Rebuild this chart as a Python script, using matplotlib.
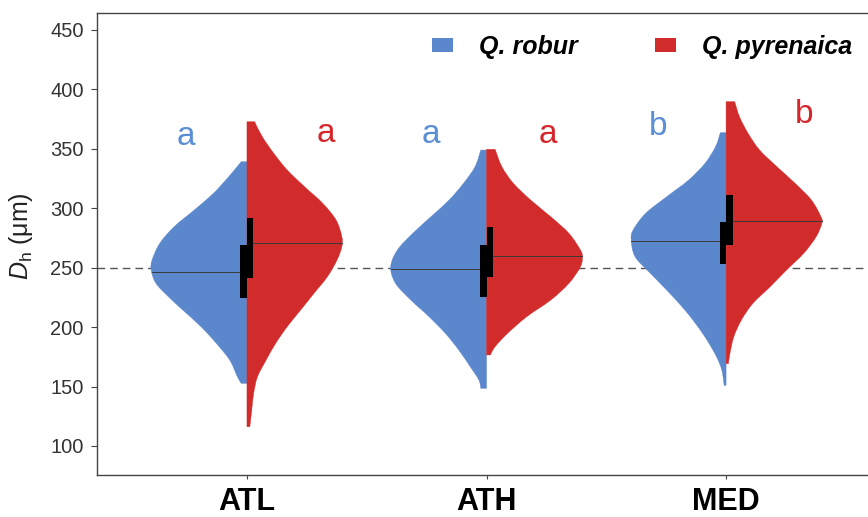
import numpy as np
import matplotlib
matplotlib.use("Agg")
import matplotlib.pyplot as plt
from matplotlib.path import Path
from matplotlib.patches import PathPatch, Patch, Rectangle

plt.rcParams['font.family'] = ['Liberation Sans', 'DejaVu Sans']
plt.rcParams['mathtext.fontset'] = 'custom'
plt.rcParams['mathtext.rm'] = 'Liberation Sans'
plt.rcParams['mathtext.it'] = 'Liberation Sans:italic'

# ---------------- data ----------------
sites = ["ATL", "ATH", "MED"]
species = ["Q. robur", "Q. pyrenaica"]

# violin outlines: y values (µm) and relative density (0-1), top to bottom
robur_y = [
    [339.2, 326.6, 312.6, 298.5, 284.5, 270.5, 256.5, 248.0, 236.9, 225.6, 214.4, 200.4, 186.4, 172.3, 158.3, 152.7],
    [349.0, 335.0, 321.0, 307.0, 292.9, 278.9, 264.9, 250.8, 236.9, 222.8, 208.8, 194.8, 180.8, 166.7, 155.5, 148.5],
    [363.6, 351.8, 337.8, 323.8, 309.7, 295.7, 281.7, 273.3, 259.3, 245.3, 231.2, 217.2, 203.2, 189.2, 175.1, 163.9, 151.0],
]
robur_d = [
    [0.06, 0.19, 0.35, 0.55, 0.76, 0.91, 0.99, 1.00, 0.95, 0.82, 0.67, 0.48, 0.32, 0.18, 0.10, 0.06],
    [0.06, 0.12, 0.24, 0.39, 0.58, 0.77, 0.93, 1.00, 0.95, 0.79, 0.60, 0.43, 0.29, 0.17, 0.08, 0.06],
    [0.06, 0.11, 0.22, 0.39, 0.62, 0.84, 0.97, 0.99, 0.95, 0.79, 0.62, 0.46, 0.32, 0.20, 0.10, 0.045, 0.02],
]
pyren_y = [
    [372.8, 360.2, 346.2, 332.2, 318.2, 304.2, 290.1, 276.1, 267.7, 256.5, 242.5, 228.5, 214.4, 200.4, 186.4, 172.3, 158.3, 144.3, 130.3, 116.2],
    [349.6, 335.0, 321.0, 307.0, 292.9, 278.9, 264.9, 259.3, 250.8, 236.9, 222.8, 208.8, 194.8, 183.6, 176.6],
    [389.7, 377.0, 363.0, 349.0, 335.0, 321.0, 307.0, 292.9, 287.4, 276.1, 262.1, 248.0, 234.0, 220.0, 206.0, 191.7, 177.7, 169.3],
]
pyren_d = [
    [0.08, 0.16, 0.28, 0.42, 0.60, 0.79, 0.93, 0.99, 0.99, 0.94, 0.84, 0.70, 0.56, 0.42, 0.30, 0.20, 0.11, 0.07, 0.05, 0.03],
    [0.09, 0.16, 0.28, 0.46, 0.67, 0.86, 0.98, 1.00, 0.98, 0.86, 0.67, 0.42, 0.22, 0.09, 0.04],
    [0.09, 0.14, 0.23, 0.35, 0.53, 0.72, 0.89, 0.99, 1.00, 0.94, 0.81, 0.63, 0.46, 0.28, 0.16, 0.08, 0.04, 0.024],
]

robur_median = [246.0, 248.6, 272.5]
pyren_median = [270.5, 260.1, 289.6]
robur_q1 = [224.3, 225.6, 253.1]
robur_q3 = [269.1, 269.1, 288.7]
pyren_q1 = [241.1, 242.5, 269.1]
pyren_q3 = [291.6, 284.0, 311.2]

robur_letters = ["a", "a", "b"]
pyren_letters = ["a", "a", "b"]
robur_letter_x = [0.746, 1.767, 2.715]
pyren_letter_x = [1.330, 2.258, 3.325]
robur_letter_y = [353.0, 354.7, 361.6]
pyren_letter_y = [356.0, 354.7, 371.5]

yticks = [100, 150, 200, 250, 300, 350, 400, 450]
ref_line = 250

# ---------------- style ----------------
BLUE = "#5b87cd"
RED = "#d12b2c"
BLUE_TXT = "#5a8ed5"
RED_TXT = "#d4262b"
MAXW = 0.40
BOXW = 0.027

W, H = 868, 517
fig = plt.figure(figsize=(W / 100, H / 100), dpi=100)
ax = fig.add_axes([97 / W, 42 / H, 780 / W, 462 / H])
ax.set_xlim(0.374, 3.63)
ax.set_ylim(75.6, 464.3)


def smooth_path(pts):
    """Catmull-Rom through pts -> cubic Bezier vertices/codes."""
    pts = np.asarray(pts, float)
    n = len(pts)
    verts = [pts[0]]
    codes = [Path.LINETO]
    for i in range(n - 1):
        p0 = pts[i - 1] if i > 0 else pts[i]
        p1 = pts[i]
        p2 = pts[i + 1]
        p3 = pts[i + 2] if i + 2 < n else pts[i + 1]
        c1 = p1 + (p2 - p0) / 6.0
        c2 = p2 - (p3 - p1) / 6.0
        verts += [c1, c2, p2]
        codes += [Path.CURVE4] * 3
    return verts, codes


def half_violin(xc, ys, ds, side, color):
    ys = np.asarray(ys, float)
    xs = xc + side * MAXW * np.asarray(ds, float)
    outline = np.column_stack([xs, ys])
    verts = [(xc, ys[0])]
    codes = [Path.MOVETO]
    v, c = smooth_path(outline)
    verts += v
    codes += c
    verts += [(xc, ys[-1]), (xc, ys[0])]
    codes += [Path.LINETO, Path.CLOSEPOLY]
    ax.add_patch(PathPatch(Path(verts, codes), facecolor=color,
                           edgecolor=color, lw=0.3, zorder=2))


def edge_at(ys, ds, y):
    return MAXW * np.interp(y, np.asarray(ys)[::-1], np.asarray(ds)[::-1])


ax.axhline(ref_line, color="#555555", lw=1.0, ls=(0, (5.5, 3.6)), zorder=1)

for i, site in enumerate(sites):
    xc = i + 1
    half_violin(xc, robur_y[i], robur_d[i], -1, BLUE)
    half_violin(xc, pyren_y[i], pyren_d[i], +1, RED)
    # medians
    wb = edge_at(robur_y[i], robur_d[i], robur_median[i])
    ax.plot([xc - wb, xc], [robur_median[i]] * 2, color="#3a3a3a", lw=0.7, zorder=3)
    wr = edge_at(pyren_y[i], pyren_d[i], pyren_median[i])
    ax.plot([xc, xc + wr], [pyren_median[i]] * 2, color="#3a3a3a", lw=0.7, zorder=3)
    # IQR boxes
    ax.add_patch(Rectangle((xc - BOXW, robur_q1[i]), BOXW, robur_q3[i] - robur_q1[i],
                           facecolor="black", edgecolor="none", zorder=4))
    ax.add_patch(Rectangle((xc, pyren_q1[i]), BOXW, pyren_q3[i] - pyren_q1[i],
                           facecolor="black", edgecolor="none", zorder=4))
    # significance letters
    ax.text(robur_letter_x[i], robur_letter_y[i], robur_letters[i], color=BLUE_TXT,
            fontsize=24, ha="center", va="baseline", zorder=5)
    ax.text(pyren_letter_x[i], pyren_letter_y[i], pyren_letters[i], color=RED_TXT,
            fontsize=24, ha="center", va="baseline", zorder=5)

ax.set_xticks([1, 2, 3])
ax.set_xticklabels(sites, fontsize=22, fontweight="bold", color="black")
ax.set_yticks(yticks)
ax.set_yticklabels([str(t) for t in yticks], fontsize=14.5, color="#333333")
ax.tick_params(axis="y", length=4.5, width=0.8, color="#444444", pad=5.0)
ax.tick_params(axis="x", length=3.0, width=0.8, color="#444444", pad=5.5)
for s in ax.spines.values():
    s.set_color("#444444")
    s.set_linewidth(1.0)

ax.set_ylabel(r"$D_\mathrm{h}$ (μm)", fontsize=18, color="#222222")
ax.yaxis.set_label_coords(-0.0795, 0.518)

handles = [Patch(facecolor=BLUE, edgecolor="none"), Patch(facecolor=RED, edgecolor="none")]
leg = fig.legend(handles, species, loc="center left",
                 bbox_to_anchor=(432 / W, 1 - 47 / H), ncol=2, frameon=False,
                 prop={"family": "Liberation Sans", "style": "italic", "weight": "bold", "size": 18},
                 handlelength=0.84, handleheight=0.52, handletextpad=1.04,
                 columnspacing=3.1, borderpad=0, borderaxespad=0)

fig.savefig("out.png", dpi=100)
